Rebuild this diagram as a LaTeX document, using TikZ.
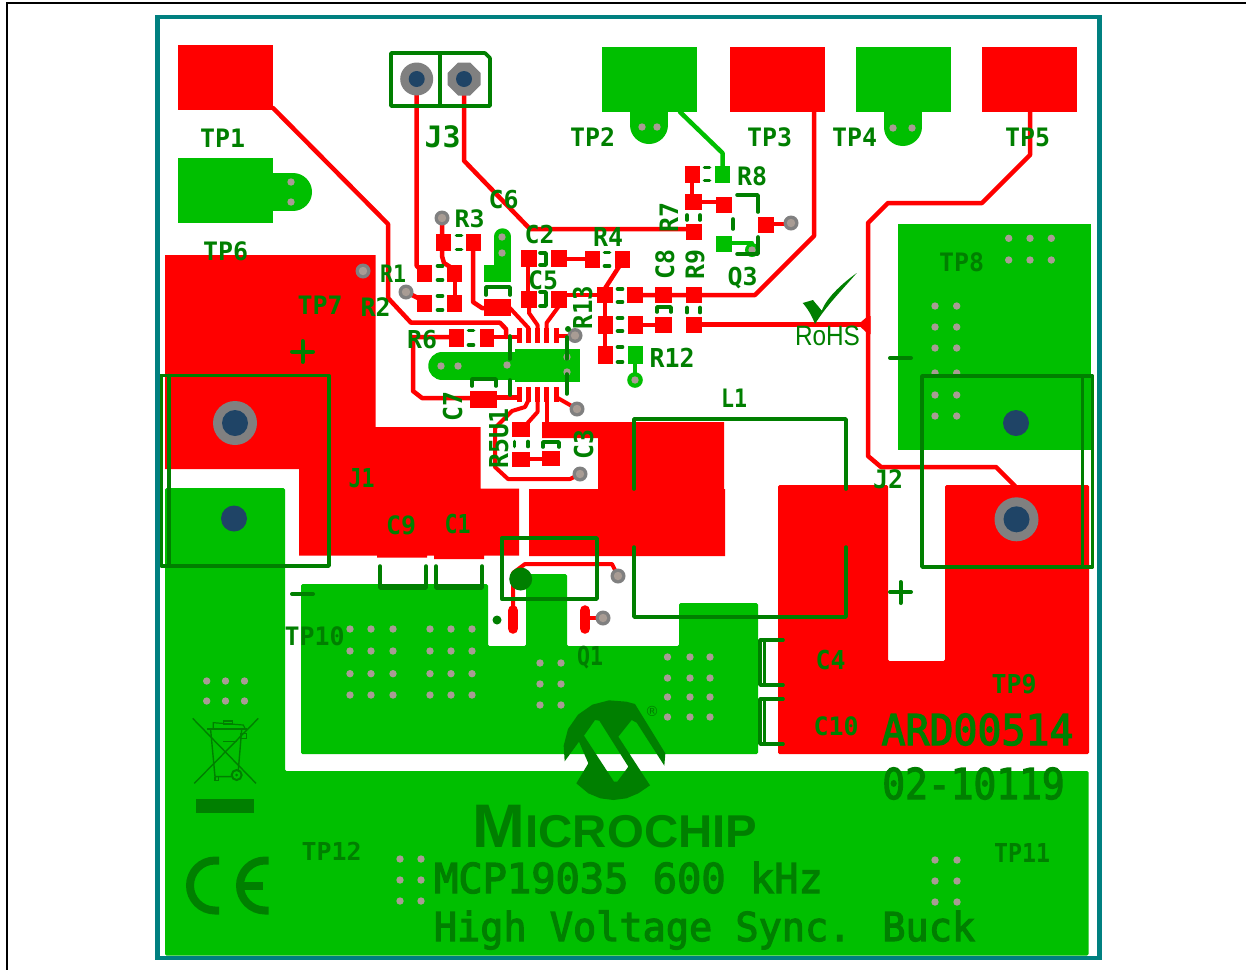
\documentclass[tikz,border=0pt]{standalone}
\usepackage{fontspec}
\setmainfont{Liberation Sans}
\newfontfamily\skb{DejaVu Sans Mono}
\newfontfamily\skr{DejaVu Sans Mono}[FakeBold=3]
\definecolor{pcbred}{HTML}{FF0000}
\definecolor{pcbgreen}{HTML}{00BF00}
\definecolor{silk}{HTML}{007F00}
\definecolor{edge}{HTML}{008080}
\definecolor{hole}{HTML}{1F4466}
\definecolor{viag}{HTML}{808080}
\definecolor{viad}{HTML}{A89C94}
\tikzset{
 trace/.style={draw=pcbred,line width=4.5pt,line join=round,line cap=round},
 gtrace/.style={draw=pcbgreen,line width=4.5pt,line join=round,line cap=round},
 sline/.style={draw=silk,line width=3.6pt,line join=round,line cap=round},
 stext/.style={inner sep=0pt,outer sep=0pt,anchor=base,text=silk,transform shape},
}
% x1 y1 x2 y2
\newcommand\rpad[4]{\fill[pcbred] (#1,#2) rectangle (#3,#4);}
\newcommand\gpad[4]{\fill[pcbgreen] (#1,#2) rectangle (#3,#4);}
\newcommand\viaH[2]{\fill[viag] (#1,#2) circle[radius=7.5pt]; \fill[viad] (#1,#2) circle[radius=4.2pt];}
\newcommand\dotH[2]{\fill[viad] (#1,#2) circle[radius=3.7pt];}
\newcommand\hdsh[2]{\draw[sline] (#1-2.5,#2) -- (#1+2.5,#2);}
\newcommand\vdsh[2]{\draw[sline] (#1,#2-2.5) -- (#1,#2+2.5);}
% name cx baseY pitch cap text
\newcommand\lbl[6]{\pgfmathsetmacro\sxx{#4/6.02}\pgfmathsetmacro\syy{#5/7.29}%
 \node[stext,xscale=\sxx,yscale=\syy,font=\fontsize{10pt}{12pt}\skb\bfseries] (#1) at (#2,#3) {#6};}
\newcommand\lblr[6]{\pgfmathsetmacro\sxx{#4/6.02}\pgfmathsetmacro\syy{#5/7.29}%
 \node[stext,rotate=90,xscale=\sxx,yscale=\syy,font=\fontsize{10pt}{12pt}\skb\bfseries] (#1) at (#2,#3) {#6};}
\newcommand\lblL[6]{\pgfmathsetmacro\sxx{#4/6.02}\pgfmathsetmacro\syy{#5/7.29}%
 \node[stext,xscale=\sxx,yscale=\syy,font=\fontsize{10pt}{12pt}\skr] (#1) at (#2,#3) {#6};}
\begin{document}
\begin{tikzpicture}[x=1pt,y=-1pt]
\useasboundingbox (0,0) rectangle (1246,970);
\fill[white] (0,0) rectangle (1246,970);
% frame
\draw[black,line width=2pt] (1246,2.8) -- (6.8,2.8) -- (6.8,970);

%% ---------- bottom copper ----------
\fill[pcbgreen,rounded corners=1.5pt] (165,488) -- (285,488) -- (285,771) -- (1088.5,771) -- (1088.5,955.5) -- (165,955.5) -- cycle;
\fill[pcbgreen,rounded corners=1.5pt] (301,584) -- (488,584) -- (488,646) -- (526,646) -- (526,574) -- (567,574) -- (567,646) -- (679,646) -- (679,603) -- (758,603) -- (758,754) -- (301,754) -- cycle;
\gpad{898}{224}{1091}{450}
% TP6, TP2, TP4
\gpad{178}{158}{273}{223}
\draw[pcbgreen,line width=38pt,line cap=round] (273,192) -- (293,192);
\gpad{602}{47}{697}{112}
\draw[pcbgreen,line width=38pt,line cap=round] (649,110) -- (649,125);
\gpad{856}{47}{951}{112}
\draw[pcbgreen,line width=38pt,line cap=round] (902.5,110) -- (902.5,127);
\draw[gtrace] (680,112) -- (722.5,153) -- (722.5,174);
\gpad{715}{166}{730}{183}
% green pads near C6 and U1
\draw[pcbgreen,line width=16.5pt,line cap=round] (502.5,236.5) -- (502.5,270);
\gpad{484}{265}{511}{282}
\draw[pcbgreen,line width=27.5pt,line cap=round] (442,366) -- (515,366);
\gpad{515}{349}{580}{382}
\gpad{628}{346}{643}{364}
\draw[gtrace] (635,364) -- (635,380);
\fill[pcbgreen] (635,380) circle[radius=7.8pt];
\gpad{716}{236}{732}{252}
\draw[gtrace] (732,243) -- (752,243) -- (752,250);
\fill[pcbgreen] (752,250) circle[radius=7pt];

%% ---------- top copper ----------
\rpad{178}{45}{273}{110}
\rpad{730}{47}{825}{112}
\rpad{982}{47}{1077}{112}
\fill[pcbred] (165,255) -- (375.7,255) -- (375.7,427) -- (480.7,427) -- (480.7,488.7) -- (519,488.7) -- (519,555.7) -- (484,555.7) -- (484,559) -- (434,559) -- (434,555.7) -- (427,555.7) -- (427,557.7) -- (377,557.7) -- (377,555.7) -- (299,555.7) -- (299,469) -- (165,469) -- cycle;
\fill[pcbred] (542,422) -- (724,422) -- (724,489) -- (725,489) -- (725,556) -- (529,556) -- (529,489) -- (598,489) -- (598,438) -- (542,438) -- cycle;
\fill[pcbred,rounded corners=1.5pt] (778,485) -- (888,485) -- (888,661) -- (945,661) -- (945,485) -- (1089,485) -- (1089,754) -- (778,754) -- cycle;

% traces
\draw[trace] (273,108) -- (388,224) -- (388,298) -- (411,322.7) -- (500,322.7) -- (506,329) -- (506,337);
\draw[trace] (416.7,79) -- (416.7,266) -- (424,273);
\draw[trace] (464,79) -- (464,160.7) -- (530,229) -- (694,229);
\draw[trace] (406,292) -- (420,299);
\draw[trace] (442,218) -- (442,256) -- (444,263) -- (455,270);
\draw[trace] (455,282) -- (455,296);
\draw[trace] (473,243) -- (473,302) -- (482,308) -- (490,308);
\draw[trace,line width=4pt] (508,306) -- (528.5,328) -- (528.5,336);
\draw[trace,line width=4pt] (529,300) -- (529,313) -- (537.5,325) -- (537.5,336);
\draw[trace,line width=4pt] (559,300) -- (559,306) -- (546.5,323) -- (546.5,336);
\draw[trace,line width=4pt] (556,335.5) -- (575,335.5);
\draw[trace] (494,337) -- (519.5,337);
\draw[trace] (449,337) -- (413,337) -- (413,391) -- (422,398) -- (480,398);
\draw[trace] (497,397.5) -- (519.5,397.5);
\draw[trace] (528,259) -- (528,295);
\draw[trace] (560,259) -- (590,259);
\draw[trace] (560,295) -- (600,295);
\draw[trace] (622,262) -- (604,290);
\draw[trace] (605,295) -- (605,350);
\draw[trace] (635,295) -- (755,295) -- (814,236) -- (814,110);
\draw[trace] (636,325) -- (664,325);
\draw[trace] (694,324.5) -- (866,324.5);
\fill[pcbred] (858,324.5) -- (868,316) -- (870.5,316) -- (870.5,334) -- (868,334) -- cycle;
\draw[trace] (1030,110) -- (1030,155) -- (982,203) -- (888,203) -- (868,223) -- (868,456) -- (881,467) -- (996,467) -- (1015,486);
\draw[trace] (692,180) -- (692,200);
\draw[trace] (694,202) -- (724,202);
\draw[trace] (766,224) -- (791,224);
% lower U1 traces
\draw[trace,line width=4pt] (528.5,400) -- (525,407) -- (512,411) -- (495,428) -- (495,467) -- (508,479) -- (570,479) -- (580,474);
\draw[trace,line width=4pt] (537.5,400) -- (537.5,412) -- (524,427);
\draw[trace,line width=4pt] (546.5,400) -- (546.5,424);
\draw[trace,line width=4pt] (556,397) -- (577,409);
\draw[trace] (525,459) -- (550,459);
% Q1
\draw[trace,line width=4pt] (513,610) -- (513,573) -- (525,564) -- (612,564) -- (618,576);
\draw[pcbred,line width=10.6pt,line cap=round] (513,610.5) -- (513,628.5);
\draw[pcbred,line width=10.6pt,line cap=round] (585,610.5) -- (585,628.5);
\draw[trace,line width=4pt] (585,618) -- (603,618);
% pads
\rpad{417}{265}{432}{282} \rpad{447}{265}{462}{282}
\rpad{417}{295}{432}{312} \rpad{447}{295}{462}{312}
\rpad{436}{234}{451}{251} \rpad{466}{234}{481}{251}
\rpad{484}{299}{511}{316}
\rpad{521}{250}{537}{267} \rpad{551}{250}{567}{267}
\rpad{521}{291}{537}{308} \rpad{551}{291}{567}{308}
\rpad{585}{251}{600}{268} \rpad{615}{251}{630}{268}
\rpad{449}{329}{464}{347} \rpad{480}{329}{494}{347}
\rpad{470}{391}{497}{408}
\rpad{512}{422}{530}{437} \rpad{512}{452}{530}{467} \rpad{542}{451}{560}{466}
\foreach \xc in {519.5,528.5,537.5,546.5,556}{
  \rpad{\xc-2.5}{328}{\xc+2.5}{343} \rpad{\xc-2.5}{387}{\xc+2.5}{402}
}
\rpad{597}{287}{613}{303} \rpad{627}{287}{643}{303} \rpad{655}{287}{672}{303} \rpad{686}{287}{702}{303}
\rpad{598}{316}{613}{334} \rpad{628}{316}{643}{334} \rpad{655}{317}{672}{333} \rpad{686}{317}{702}{333}
\rpad{598}{346}{613}{364}
\rpad{685}{166}{700}{183} \rpad{685}{194}{702}{210} \rpad{716}{197}{732}{213} \rpad{686}{224}{702}{240}
\rpad{758}{217}{774}{233}

%% ---------- drills and vias ----------
\fill[viag] (235,423) circle[radius=22pt];
\fill[viag] (1016.5,519.3) circle[radius=22pt];
\fill[hole] (235,423) circle[radius=13pt];
\fill[hole] (1016.5,519.3) circle[radius=13pt];
\fill[hole] (234,518.5) circle[radius=13pt];
\fill[hole] (1016,423) circle[radius=13pt];
\fill[viag] (416.7,79) circle[radius=16.5pt];
\fill[viag] (458,62.5) -- (470,62.5) -- (480.5,73) -- (480.5,85) -- (470,95.5) -- (458,95.5) -- (447.5,85) -- (447.5,73) -- cycle;
\fill[hole] (416.7,79) circle[radius=8pt];
\fill[hole] (464,79) circle[radius=8pt];
\viaH{363}{271} \viaH{406}{292} \viaH{442}{218} \viaH{575}{335.5}
\viaH{577}{409} \viaH{580}{474} \viaH{791}{223} \viaH{618}{576} \viaH{603}{618}
\dotH{635}{380}
\dotH{752}{250}
\dotH{291}{182} \dotH{291}{202}
\dotH{642}{127} \dotH{657}{127}
\dotH{893}{128} \dotH{912}{128}
\dotH{502}{237} \dotH{502}{253}
\dotH{441}{366} \dotH{458}{366} \dotH{507}{365} \dotH{567}{357} \dotH{567}{372}
\foreach \xc in {1008.7,1030,1051.3}{\foreach \yc in {238.3,260}{\dotH{\xc}{\yc}}}
\foreach \xc in {935,956.7}{\foreach \yc in {306,327,348,373,395,416}{\dotH{\xc}{\yc}}}
\foreach \xc in {206.7,225.5,244.5}{\foreach \yc in {681,701}{\dotH{\xc}{\yc}}}
\foreach \xc in {350,371,393,430,451,472}{\foreach \yc in {629,651,673.7,695}{\dotH{\xc}{\yc}}}
\foreach \xc in {540,561}{\foreach \yc in {663,684,705}{\dotH{\xc}{\yc}}}
\foreach \xc in {667.5,690,710}{\foreach \yc in {657,678,697,717}{\dotH{\xc}{\yc}}}
\foreach \xc in {400,421}{\foreach \yc in {859,880,901}{\dotH{\xc}{\yc}}}
\foreach \xc in {935,957}{\foreach \yc in {860,881,902}{\dotH{\xc}{\yc}}}

%% ---------- silkscreen ----------
% connectors
\draw[sline] (161,375.5) rectangle (329,566);
\draw[sline] (169,375.5) -- (169,566);
\draw[sline] (922,376) rectangle (1092.5,567);
\draw[sline] (1082.5,376) -- (1082.5,567);
\draw[sline] (391,53) -- (485,53) -- (490,58) -- (490,106) -- (391,106) -- cycle;
\draw[sline] (440,53) -- (440,106);
% inductor, Q1
\draw[sline] (634,489) -- (634,419) -- (846,419) -- (846,489);
\draw[sline] (634,547) -- (634,617) -- (846,617) -- (846,547);
\draw[sline] (501.7,538) rectangle (597,599);
\fill[silk] (520.7,579) circle[radius=11.5pt];
\fill[silk] (497,620) circle[radius=4.5pt];
% part outlines
\draw[sline] (486,295) -- (486,287) -- (510,287) -- (510,295);
\draw[sline] (472,386) -- (472,379) -- (496,379) -- (496,386);
\draw[sline] (540,253) -- (546,253) -- (546,265) -- (540,265);
\draw[sline] (540,292) -- (546,292) -- (546,306) -- (540,306);
\draw[sline] (510,336) -- (510,359);
\draw[sline] (510,380) -- (510,395);
\draw[sline] (566.7,337) -- (566.7,359);
\draw[sline] (566.7,374) -- (566.7,394);
\fill[silk] (568,329) circle[radius=3pt];
\draw[sline] (543,447) -- (543,442) -- (559,442) -- (559,447);
\draw[sline] (657,312) -- (657,307) -- (671,307) -- (671,312);
\draw[sline] (737,195) -- (758,195) -- (758,212);
\draw[sline] (758,237) -- (758,254) -- (737,254);
\draw[sline] (733,219) -- (733,229);
\draw[sline] (380,566) -- (380,588) -- (426,588) -- (426,566);
\draw[sline] (381,585.5) -- (425,585.5);
\draw[sline] (436,566) -- (436,588) -- (482,588) -- (482,566);
\draw[sline] (437,585.5) -- (481,585.5);
\draw[sline] (783,640) -- (760,640) -- (760,685) -- (783,685);
\draw[sline,line width=2.5pt] (764.5,640) -- (764.5,685);
\draw[sline] (783,699) -- (760,699) -- (760,744) -- (783,744);
\draw[sline,line width=2.5pt] (764.5,699) -- (764.5,744);
% dashes
\hdsh{440}{266} \hdsh{440}{280} \hdsh{440}{296} \hdsh{440}{310}
\hdsh{459}{235.5} \hdsh{459}{249.5}
\hdsh{607}{252.5} \hdsh{607}{266}
\hdsh{471}{330.5} \hdsh{471}{345}
\hdsh{620}{289} \hdsh{620}{302} \hdsh{620}{318} \hdsh{620}{331} \hdsh{620}{347} \hdsh{620}{362}
\hdsh{707}{167.5} \hdsh{707}{180.5}
\vdsh{687}{217.5} \vdsh{700}{217.5}
\vdsh{687}{310} \vdsh{700}{310}
\vdsh{514.5}{444} \vdsh{528}{444}
% plus / minus
\draw[sline,line width=4pt] (292,351.7) -- (313,351.7);
\draw[sline,line width=4pt] (302.5,341) -- (302.5,362);
\draw[sline,line width=4pt] (292,594) -- (313,594);
\draw[sline,line width=4pt] (890,358) -- (911,358);
\draw[sline,line width=4pt] (890,592) -- (911,592);
\draw[sline,line width=4pt] (900.5,582) -- (900.5,603);

% labels
\lbl{tpa}{222.5}{147}{15}{18.5}{TP1}
\lbl{jc}{442.5}{147}{18}{21.5}{J3}
\lbl{tpb}{592.5}{146.5}{15}{18.5}{TP2}
\lbl{tpc}{769.5}{146.5}{15}{18.5}{TP3}
\lbl{tpd}{854.5}{146.5}{15}{18.5}{TP4}
\lbl{tpe}{1027.5}{146.5}{15}{18.5}{TP5}
\lbl{tpf}{225.5}{260}{15}{18.5}{TP6}
\lbl{tpg}{320}{314}{15}{18.5}{TP7}
\lbl{ra}{393}{282}{13}{17.5}{R1}
\lbl{rb}{375.5}{316}{15}{18.5}{R2}
\lbl{rc}{469.5}{227}{15}{17.5}{R3}
\lbl{cf}{503.5}{208}{15}{18}{C6}
\lbl{cb}{539.5}{243}{15}{18}{C2}
\lbl{rd}{608}{246}{15}{19}{R4}
\lbl{ce}{543}{289}{15}{18.5}{C5}
\lbl{rf}{422}{348}{15}{18}{R6}
\lbl{rl}{672}{367}{15}{19}{R12}
\lbl{rh}{752}{185}{15}{18.5}{R8}
\lbl{qc}{742.5}{285}{15}{18}{Q3}
\lbl{la}{734}{407}{13}{18.5}{L1}
\lbl{jb}{888}{488}{15}{18.5}{J2}
\lbl{ja}{361.5}{487}{13}{19}{J1}
\lbl{ci}{401}{534}{15}{18.5}{C9}
\lbl{ca}{457.5}{533}{13}{19}{C1}
\lbl{qa}{590}{665}{13}{19}{Q1}
\lbl{tpj}{314.5}{645}{15}{18.5}{TP10}
\lbl{tph}{961.5}{271}{15}{18.5}{TP8}
\lbl{tpi}{1014}{693}{15}{19}{TP9}
\lbl{cd}{830.5}{669}{15}{19}{C4}
\lbl{cj}{836}{735}{15}{18.5}{C10}
\lbl{tpk}{1022}{862}{14}{19}{TP11}
\lbl{tpl}{331.5}{860}{15}{18}{TP12}
\lblr{rm}{592}{307.5}{14.5}{19}{R13}
\lblr{cg}{462}{406.5}{15}{19}{C7}
\lblr{reu}{508}{438.5}{15}{19}{R5U1}
\lblr{cc}{593}{444}{15}{19}{C3}
\lblr{rg}{678}{217}{15}{18.5}{R7}
\lblr{ch}{674}{264.5}{15}{18.5}{C8}
\lblr{ri}{704}{264.5}{15}{18.5}{R9}
\lblL{ard}{977.5}{745}{24}{31}{ARD00514}
\lblL{doc}{973.5}{799}{22.8}{31}{02-10119}
\lblL{mcp}{628.5}{893}{24.3}{30}{MCP19035 600 kHz}
\lblL{hvs}{704.5}{941}{23.2}{29}{High Voltage Sync. Buck}

% RoHS
\fill[silk] (802.7,303) -- (813,300) .. controls (816,304) and (819,307) .. (821.7,310.7) .. controls (826,299) and (840,285) .. (856.7,273) .. controls (843,289) and (826,306) .. (815,324) .. controls (812,316) and (808,309) .. (802.7,303) -- cycle;
\node[stext,xscale=.87,font=\fontsize{28pt}{30pt}\selectfont] (rohs) at (827.5,345) {RoHS};

% Microchip logo
\begin{scope}[shift={(480,540)},x=.33333pt,y=-.33333pt]
\fill[silk,even odd rule,line join=round] (254,664) -- (251,617) -- (264,567) -- (294,524) -- (337,494) -- (387,481) -- (439,485) -- (465,492) -- (556,640) -- (553,677) -- (470,548) -- (455,540) -- (415,590) -- (510,736) -- (475,760) -- (439,775) -- (400,780) -- (361,775) -- (325,760) -- (289,730) -- (325,670) -- (297,605) -- cycle
 (312,587) -- (345,540) -- (358,542) -- (445,680) -- (412,725) -- (402,725) -- cycle;
\end{scope}
\node[stext,font=\fontsize{14pt}{16pt}\selectfont\fontspec{DejaVu Sans}] (reg) at (652,716) {®};
\node[stext,xscale=1.03,font=\fontsize{46pt}{50pt}\selectfont\bfseries] (mchip) at (615,847) {{\fontsize{61.5pt}{62pt}\selectfont M}ICROCHIP};

% recycling bin
\begin{scope}[shift={(150,660)},x=.33333pt,y=-.33333pt]
\draw[silk,line width=1.4pt] (128,175) -- (318,370);
\draw[silk,line width=1.4pt] (325,175) -- (133,370);
\draw[silk,line width=1.4pt] (182,210) -- (195,350) -- (245,350);
\draw[silk,line width=1.4pt] (275,210) -- (265,330);
\draw[silk,line width=2pt] (172,207) -- (290,207);
\draw[silk,line width=1.2pt] (190,205) -- (190,188) -- (280,195) -- (285,205);
\draw[silk,line width=1.2pt] (220,183) rectangle (248,192);
\draw[silk,line width=1.6pt] (220,245) -- (262,245);
\draw[silk,line width=1.2pt] (272,220) rectangle (290,235);
\draw[silk,line width=1.2pt] (195,350) -- (195,362) -- (205,362) -- (205,350);
\draw[silk,line width=2pt] (260,345) circle[radius=5pt];
\fill[silk] (260,345) circle[radius=1.5pt];
\end{scope}
\fill[silk] (196,799) rectangle (254,813);

% CE mark
\draw[silk,line width=8pt] (219,860.5) -- (215,860.5) arc[start angle=90,end angle=270,radius=25pt] -- (219,910.5);
\draw[silk,line width=8pt] (268.5,860.5) -- (265,860.5) arc[start angle=90,end angle=270,radius=25pt] -- (268.5,910.5);
\draw[silk,line width=8pt] (238,886) -- (263,886);

% board edge
\draw[edge,line width=4.5pt] (157.5,17) rectangle (1099.5,958);
\end{tikzpicture}
\end{document}
